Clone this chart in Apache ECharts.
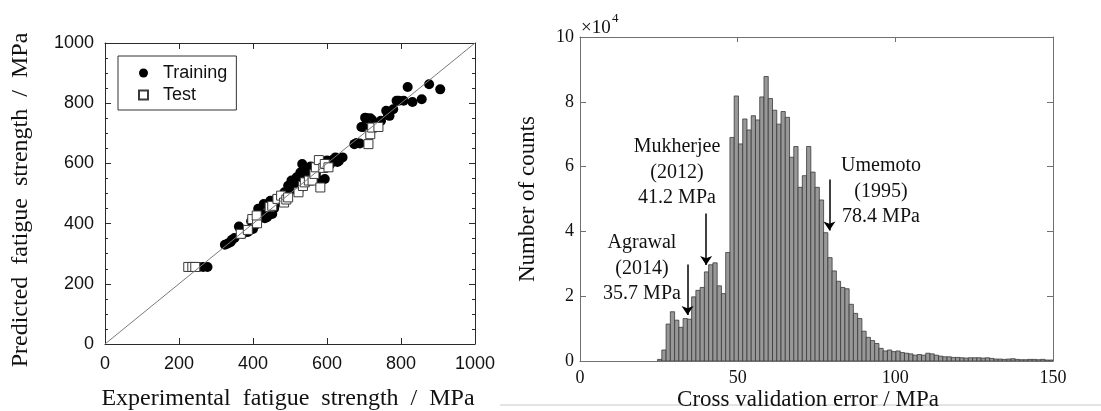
<!DOCTYPE html>
<html><head><meta charset="utf-8">
<script src="https://cdn.jsdelivr.net/npm/echarts@6/dist/echarts.min.js"></script>
<style>html,body{margin:0;padding:0;background:#fff}#c{width:1101px;height:411px}</style>
</head><body><div id="c"></div><script>
// ---------- Left panel data (MPa) ----------
const trainingPoints = [
 [253,256],[265,256],[277,256],
 [324,330],[332,334],[339,338],[343,346],[350,352],[362,390],[372,366],[378,377],[386,372],
 [395,408],[400,382],[405,395],[414,449],[418,420],[424,432],[429,465],[432,418],[438,421],
 [443,440],[447,476],[452,432],[457,450],[462,482],[468,470],[476,476],[480,490],[485,504],
 [490,495],[495,526],[500,510],[504,543],[509,520],[513,530],[518,554],[523,509],[528,570],
 [533,598],[537,560],[542,543],[546,575],[551,559],[556,590],[561,581],[565,560],[570,565],
 [575,590],[580,543],[585,600],[594,548],[600,610],[609,598],[616,612],[623,620],[628,605],
 [632,608],[642,620],[674,664],[680,668],[689,666],[693,721],[698,721],[703,752],[708,750],
 [717,750],[722,744],[746,742],[760,775],[765,760],[769,758],[779,780],[788,808],[794,808],
 [807,808],[818,854],[831,804],[856,813],[876,863],[906,846]
];
const testPoints = [
 [225,256],[236,256],[244,256],[367,366],[386,379],[398,415],[411,401],[410,427],[445,455],
 [452,459],[466,482],[476,493],[484,470],[490,480],[495,487],[523,504],[535,525],[540,537],
 [551,543],[561,543],[566,565],[570,587],[578,611],[582,520],[590,585],[594,598],[604,587],
 [712,664],[717,697],[722,719],[739,721]
];
const identityLine = [[0,0],[1000,1000]];

// ---------- Right panel data ----------
const binStart = 24.6;   // MPa, left edge of first bin
const binWidth = 1.35;   // MPa
const counts = [
 500,3400,11400,15200,12600,10400,13100,12900,19800,21800,
 22700,27500,29700,30300,23200,20800,33500,69000,81800,67000,
 74700,71300,75700,74400,81500,87800,81000,77400,73100,77000,
 75200,62900,66200,53600,57200,66200,58300,53600,49700,39600,
 31900,27800,24600,22700,22300,17500,14700,13100,9200,7300,
 6300,5400,3900,3100,3400,2900,3100,2600,2400,2200,
 1800,2000,1800,2400,2200,1800,1500,1300,1300,1100,
 1100,1000,900,1000,1000,1000,900,1000,800,600,
 600,500,600,700,500,400,400,500,500,400,
 500,300,300
];
const annotations = [
 {lines:['Agrawal','(2014)','35.7 MPa'], from:[34.1,29800], to:[34.1,14200]},
 {lines:['Mukherjee','(2012)','41.2 MPa'], from:[40.0,45500], to:[40.0,29600]},
 {lines:['Umemoto','(1995)','78.4 MPa'], from:[79.1,56000], to:[79.1,40300]}
];

const histData = counts.map((c,i)=>[binStart+i*binWidth, binStart+(i+1)*binWidth, c]);

const serif = '"Liberation Serif","Times New Roman",serif';
const sans = '"Liberation Sans",Arial,sans-serif';
const frameL = '#2a2a2a', frameR = '#707070';

function ax(grid, pos, min, max, interval, color, label, extra){
  return Object.assign({
    gridIndex:grid, type:'value', position:pos, min:min, max:max, interval:interval,
    axisLine:{show:true,onZero:false,lineStyle:{color:color,width:1}},
    axisTick:{show:true,inside:true,length:6,lineStyle:{color:color,width:1}},
    axisLabel:label ? label : {show:false},
    splitLine:{show:false}
  }, extra||{});
}
const minorL = {minorTick:{show:true,splitNumber:4,length:3,lineStyle:{color:frameL,width:1}}};

const chart = echarts.init(document.getElementById('c'));
const labL = {show:true,color:'#111',fontFamily:sans,fontSize:18,formatter:v=>String(v)};
const labR = {show:true,color:'#111',fontFamily:serif,fontSize:18};

const option = {
  animation:false,
  backgroundColor:'#fff',
  grid:[
    {left:105, top:43, width:370, height:301},
    {left:580, top:37, width:473, height:324}
  ],
  xAxis:[
    ax(0,'bottom',0,1000,200,frameL,Object.assign({margin:11},labL)),
    ax(0,'top',0,1000,200,frameL,null),
    ax(1,'bottom',0,150,50,frameR,Object.assign({margin:8},labR),{axisTick:{show:true,inside:true,length:5,lineStyle:{color:frameR}}}),
    ax(1,'top',0,150,50,frameR,null,{axisTick:{show:true,inside:true,length:5,lineStyle:{color:frameR}}})
  ],
  yAxis:[
    ax(0,'left',0,1000,200,frameL,Object.assign({margin:11},labL),minorL),
    ax(0,'right',0,1000,200,frameL,null,minorL),
    ax(1,'left',0,100000,20000,frameR,Object.assign({margin:6,formatter:v=>String(v/10000)},labR)),
    ax(1,'right',0,100000,20000,frameR,null)
  ],
  legend:{
    left:118, top:56, orient:'vertical', itemWidth:9, itemHeight:9, itemGap:2,
    padding:[7,9,5,20], borderColor:'#333', borderWidth:1, borderRadius:0,
    backgroundColor:'#fff',
    textStyle:{fontFamily:sans,fontSize:18,color:'#111',lineHeight:20,padding:[0,0,0,10]},
    data:[{name:'Training',icon:'circle'},{name:'Test',icon:'rect'}],
    selectedMode:false
  },
  series:[
    {name:'Training', type:'scatter', xAxisIndex:0, yAxisIndex:0, data:trainingPoints,
     symbol:'circle', symbolSize:10, itemStyle:{color:'#000',opacity:1}, z:2},
    {name:'Test', type:'scatter', xAxisIndex:0, yAxisIndex:0, data:testPoints,
     symbol:'rect', symbolSize:9, itemStyle:{color:'#fff',borderColor:'#3a3a3a',borderWidth:1,opacity:1}, z:3},
    {name:'y=x', type:'line', xAxisIndex:0, yAxisIndex:0, data:identityLine, symbol:'none',
     lineStyle:{color:'#7a7a7a',width:1}, z:4, silent:true},
    {name:'hist', type:'custom', xAxisIndex:2, yAxisIndex:2, data:histData, clip:true,
     encode:{x:[0,1],y:2},
     renderItem:function(params, api){
       const p0 = api.coord([api.value(0), api.value(2)]);
       const p1 = api.coord([Math.min(api.value(1),150), 0]);
       return {type:'rect', shape:{x:p0[0], y:p0[1], width:p1[0]-p0[0], height:p1[1]-p0[1]},
               style:{fill:'#989898', stroke:'#3a3a3a', lineWidth:0.8}};
     }, z:2},
    {name:'arrows', type:'line', xAxisIndex:2, yAxisIndex:2, data:[], z:5,
     markLine:{silent:true, symbol:['none','arrow'], symbolSize:9, animation:false,
       label:{show:false}, lineStyle:{color:'#000',width:1.5,type:'solid'},
       data:annotations.map(a=>[{coord:a.from},{coord:a.to}])}}
  ],
  graphic:[]
};
chart.setOption(option);

const g = [];
function txt(s, x, y, size, family, rot, extra){
  return Object.assign({type:'text', x:x, y:y, rotation:rot||0, silent:true,
    style:{text:s, x:0, y:0, font:size+'px '+family, fill:'#111', textAlign:'center', textVerticalAlign:'middle'}}, extra||{});
}
g.push(txt('Predicted  fatigue  strength  /  MPa', 21, 200, 24, serif, Math.PI/2));
g.push(txt('Experimental  fatigue  strength  /  MPa', 288, 399, 24, serif, 0));
g.push(txt('Number of counts', 528, 199, 23, serif, Math.PI/2));
g.push(txt('Cross validation error / MPa', 808, 400, 23, serif, 0));
g.push({type:'text', x:581, y:28, silent:true, style:{text:'\u00d710', x:0, y:0, font:'19px '+serif, fill:'#111', textAlign:'left', textVerticalAlign:'middle'}});
g.push({type:'text', x:612, y:19, silent:true, style:{text:'4', x:0, y:0, font:'13px '+serif, fill:'#111', textAlign:'left', textVerticalAlign:'middle'}});
const annPos = [[642,243],[677,147],[881,166]];
annotations.forEach((a,i)=>{
  a.lines.forEach((l,j)=>{ g.push(txt(l, annPos[i][0], annPos[i][1]+j*25.5, 20, serif, 0)); });
});
g.push({type:'line', silent:true, shape:{x1:500,y1:405,x2:1101,y2:405}, style:{stroke:'#c8c8c8',lineWidth:1}, z:-1});
chart.setOption({graphic:g});
</script></body></html>
